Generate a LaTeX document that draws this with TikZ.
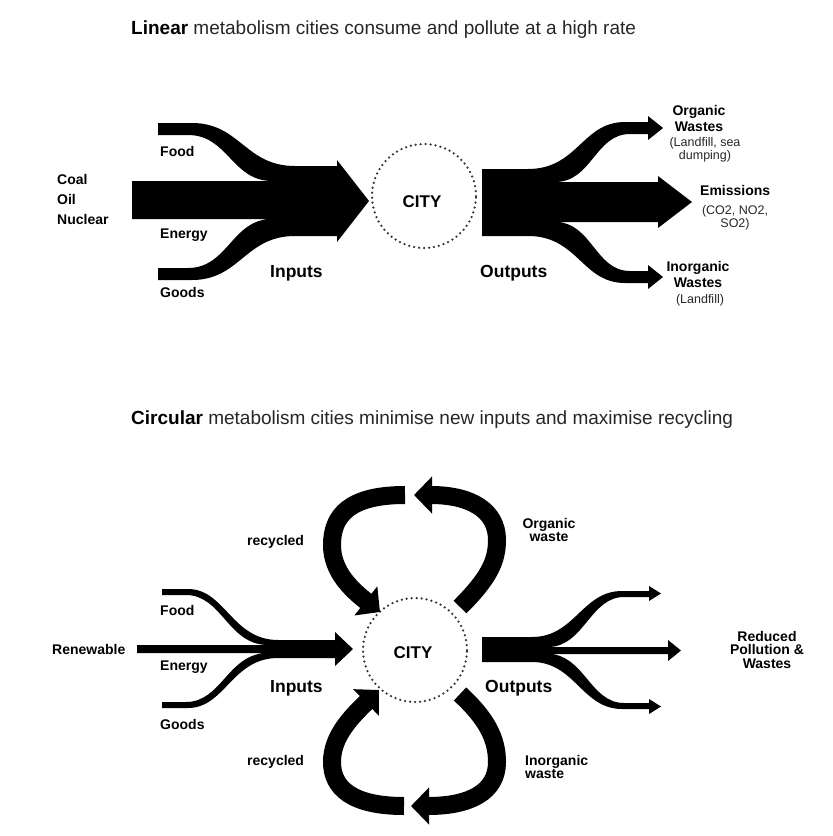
\documentclass[tikz,border=0pt]{standalone}
\usepackage{fontspec}
\setmainfont{Liberation Sans}
\usetikzlibrary{arrows.meta}
\begin{document}
\begin{tikzpicture}[x=1pt,y=-1pt,
  lab/.style={font=\fontsize{14}{16}\selectfont\bfseries, inner sep=0pt, anchor=base west},
  labc/.style={lab, anchor=base},
  small/.style={font=\fontsize{12.5}{15}\selectfont, inner sep=0pt, anchor=base, text=black!85},
  big/.style={font=\fontsize{17.5}{20}\selectfont\bfseries, inner sep=0pt, anchor=base west},
  citylbl/.style={font=\fontsize{17}{20}\selectfont\bfseries, inner sep=0pt, anchor=base},
  ring/.style={circle, draw=black!80, line width=2.5pt, dash pattern=on 0pt off 5pt, line cap=round, minimum size=104pt, inner sep=0pt},
  title/.style={font=\fontsize{19}{22}\selectfont, inner sep=0pt, anchor=base west, text=black!85},
  flow/.style={fill=black},
  loopa/.style={draw=black, line width=18pt, -{Triangle[width=36pt,length=18pt]}},
]
\useasboundingbox (0,0) rectangle (833,836);

% ---------------- titles
\node[title] (t1) at (131,34) {\textcolor{black}{\bfseries Linear} metabolism cities consume and pollute at a high rate};
\node[title] (t2) at (131,424) {\textcolor{black}{\bfseries Circular} metabolism cities minimise new inputs and maximise recycling};

% ================= LINEAR =================
\node[ring] (cityA) at (424,196) {};
\node[citylbl] (cityAl) at (422,207) {CITY};

% inputs
\fill[flow] (158,123) -- (192,123) .. controls (240,123) and (245,166) .. (295,166) -- (337,166) -- (337,160) -- (369,201) -- (337,242) -- (337,236) -- (295,236) .. controls (245,236) and (240,280) .. (192,280) -- (158,280) -- (158,268) -- (188,268) .. controls (228,268) and (232,219) .. (272,219) -- (132,219) -- (132,181) -- (272,181) .. controls (232,181) and (228,135) .. (188,135) -- (158,135) -- cycle;

\node[lab] (coal) at (57,184) {Coal};
\node[lab] (oil) at (57,204) {Oil};
\node[lab] (nuc) at (57,224) {Nuclear};
\node[lab] (foodA) at (160,156) {Food};
\node[lab] (enA) at (160,238) {Energy};
\node[lab] (goodsA) at (160,297) {Goods};
\node[big] (inA) at (270,277) {Inputs};

% outputs
\fill[flow] (482,169) -- (528,169) .. controls (578,169) and (582,122) .. (625,122) -- (648,122) -- (648,116) -- (663,128) -- (648,140) -- (648,134) -- (630,134) .. controls (595,134) and (592,182) .. (555,182) -- (658,182) -- (658,176) -- (692,202) -- (658,228) -- (658,222) -- (555,222) .. controls (592,222) and (595,271) .. (630,271) -- (648,271) -- (648,265) -- (663,277) -- (648,289) -- (648,283) -- (625,283) .. controls (582,283) and (578,236) .. (528,236) -- (482,236) -- cycle;

\node[big] (outA) at (480,277) {Outputs};
\node[labc] (orgA1) at (699,115) {Organic};
\node[labc] (orgA2) at (699,131) {Wastes};
\node[small] (orgA3) at (705,146) {(Landfill, sea};
\node[small] (orgA4) at (705,159) {dumping)};
\node[lab] (emA1) at (700,195) {Emissions};
\node[small] (emA2) at (735,214) {(CO2, NO2,};
\node[small] (emA3) at (735,227) {SO2)};
\node[labc] (inoA1) at (698,271) {Inorganic};
\node[labc] (inoA2) at (698,287) {Wastes};
\node[small] (inoA3) at (700,303) {(Landfill)};

% ================= CIRCULAR =================
\node[ring] (cityB) at (415,650) {};
\node[citylbl] (cityBl) at (413,658) {CITY};

% inputs
\fill[flow] (162,589) -- (188,589) .. controls (225,589) and (232,640) .. (278,640) -- (335,640) -- (335,632) -- (353,649) -- (335,666) -- (335,658) -- (278,658) .. controls (232,658) and (225,708) .. (188,708) -- (162,708) -- (162,702) -- (186,702) .. controls (222,702) and (228,653) .. (268,653) -- (137,653) -- (137,645) -- (268,645) .. controls (228,645) and (222,595) .. (186,595) -- (162,595) -- cycle;

\node[lab] (ren) at (52,654) {Renewable};
\node[lab] (foodB) at (160,615) {Food};
\node[lab] (enB) at (160,670) {Energy};
\node[lab] (goodsB) at (160,729) {Goods};
\node[big] (inB) at (270,692) {Inputs};

% outputs
\fill[flow] (482,637) -- (532,637) .. controls (575,637) and (582,591) .. (622,591) -- (649,591) -- (649,586) -- (661,593.5) -- (649,601) -- (649,597) -- (624,597) .. controls (590,597) and (584,647) .. (548,647) -- (668,647) -- (668,640) -- (681,650.5) -- (668,661) -- (668,654) -- (548,654) .. controls (584,654) and (590,703) .. (624,703) -- (649,703) -- (649,699) -- (661,706.5) -- (649,714) -- (649,709) -- (622,709) .. controls (582,709) and (575,662) .. (532,662) -- (482,662) -- cycle;

\node[big] (outB) at (485,692) {Outputs};
\node[labc] (red1) at (767,641) {Reduced};
\node[labc] (red2) at (767,654) {Pollution \&};
\node[labc] (red3) at (767,668) {Wastes};

% loops
\coordinate (tl1) at (405,495);
\coordinate (tl2) at (380,612);
\coordinate (tr1) at (460,607);
\coordinate (tr2) at (414,495);
\coordinate (bl1) at (404,806);
\coordinate (bl2) at (379,690);
\coordinate (br1) at (460,694);
\coordinate (br2) at (411,806);

\draw[loopa] (tl1) .. controls (350,495) and (332,515) .. (332,545) .. controls (332,572) and (352,590) .. (tl2);
\draw[loopa] (tr1) .. controls (488,579) and (497,562) .. (497,540) .. controls (497,510) and (470,495) .. (tr2);
\draw[loopa] (bl1) .. controls (352,806) and (332,788) .. (332,762) .. controls (332,737) and (350,718) .. (bl2);
\draw[loopa] (br1) .. controls (486,718) and (497,738) .. (497,762) .. controls (497,792) and (470,806) .. (br2);

\node[lab] (recA) at (247,545) {recycled};
\node[labc] (owA1) at (549,528) {Organic};
\node[labc] (owA2) at (549,541) {waste};
\node[lab] (recB) at (247,765) {recycled};
\node[lab] (iwB1) at (525,765) {Inorganic};
\node[lab] (iwB2) at (525,778) {waste};

\end{tikzpicture}
\end{document}
